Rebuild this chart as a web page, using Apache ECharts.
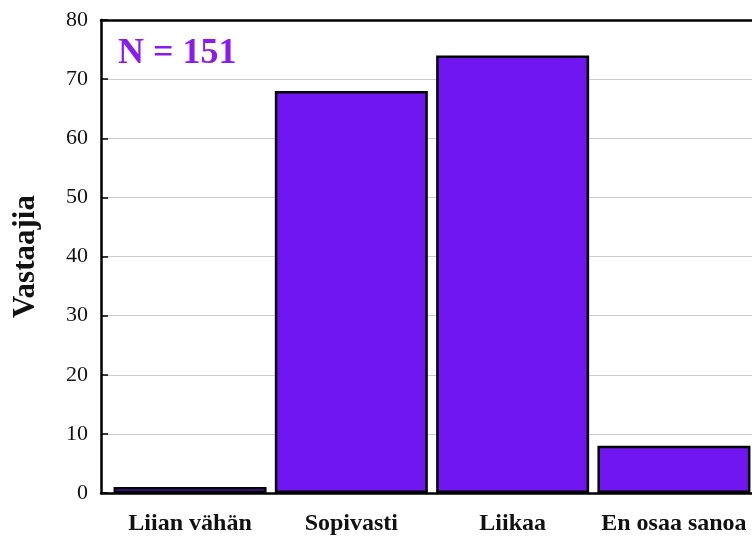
<!DOCTYPE html>
<html>
<head>
<meta charset="utf-8">
<script src="https://cdn.jsdelivr.net/npm/echarts@6/dist/echarts.min.js"></script>
<style>html,body{margin:0;padding:0;background:#fff}#c{width:752px;height:539px}</style>
</head>
<body>
<div id="c"></div>
<script>
const categories = ['Liian vähän', 'Sopivasti', 'Liikaa', 'En osaa sanoa'];
const values = [1, 68, 74, 8];
const yTicks = [0, 10, 20, 30, 40, 50, 60, 70, 80];
const yName = 'Vastaajia';
const note = 'N = 151';

const chart = echarts.init(document.getElementById('c'));
const serif = '"Liberation Serif", "DejaVu Serif", serif';
chart.setOption({
  animation: false,
  title: {
    text: note, left: 113, top: 31,
    textStyle: { fontFamily: serif, fontWeight: 'bold', fontSize: 36, color: '#8A1AF0' }
  },
  grid: { left: 101, right: 0, top: 20, bottom: 46 },
  xAxis: [{
    type: 'value', min: -0.552, max: 3.484,
    axisLine: { show: true, onZero: false, lineStyle: { color: '#000', width: 2.5 } },
    axisTick: { show: false },
    splitLine: { show: false },
    axisLabel: {
      customValues: [0, 1, 2, 3],
      formatter: v => categories[Math.round(v)] || '',
      fontFamily: serif, fontWeight: 'bold', fontSize: 24, color: '#111', margin: 19
    }
  }, {
    type: 'value', position: 'top', min: -0.552, max: 3.484,
    axisLine: { show: true, onZero: false, lineStyle: { color: '#000', width: 2.5 } },
    axisTick: { show: false }, axisLabel: { show: false }, splitLine: { show: false }
  }],
  yAxis: {
    type: 'value', min: yTicks[0], max: yTicks[yTicks.length - 1], interval: 10,
    name: yName, nameLocation: 'middle', nameGap: 60, nameRotate: 90,
    nameTextStyle: { fontFamily: serif, fontWeight: 'bold', fontSize: 31, color: '#111' },
    axisLine: { show: true, onZero: false, lineStyle: { color: '#000', width: 2.5 } },
    axisTick: { show: true, inside: true, length: 7, lineStyle: { color: '#000', width: 1.5 } },
    splitLine: { show: true, lineStyle: { color: '#cccccc', width: 1 } },
    axisLabel: { fontFamily: serif, fontSize: 22, color: '#111', margin: 13 }
  },
  series: [{
    type: 'bar',
    data: values.map((v, i) => [i, v]),
    barWidth: 153,
    itemStyle: { color: '#7016F0', borderColor: '#000', borderWidth: 2.5 }
  }]
});
</script>
</body>
</html>
